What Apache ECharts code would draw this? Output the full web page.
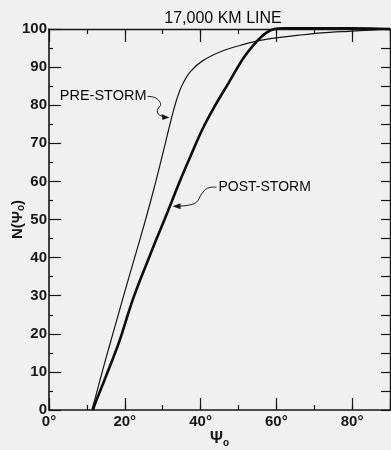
<!DOCTYPE html>
<html>
<head>
<meta charset="utf-8">
<script src="https://cdn.jsdelivr.net/npm/echarts@6/dist/echarts.min.js"></script>
<style>
html,body{margin:0;padding:0;background:#f0f0f0;}
#c{width:391px;height:450px;}
</style>
</head>
<body>
<div id="c"></div>
<script>
// ---- data ----
var chartTitle = '17,000 KM LINE';
var xTickLabels = ['0°', '20°', '40°', '60°', '80°'];
var yTickLabels = ['0','10','20','30','40','50','60','70','80','90','100'];

var preStormX = [11.3, 12.3, 13.5, 15.0, 17.0, 19.7, 22.6, 25.5, 28.2, 30.7, 31.8, 32.7, 33.7, 35.0, 37.2, 40.6, 45.9, 51.2, 55.7, 61.0, 66.0, 72.0, 79.0, 85.0, 90.0];
var preStormY = [0, 3.5, 8.0, 13.5, 20.5, 30.0, 40.0, 50.0, 60.0, 70.0, 74.5, 78.0, 81.5, 85.0, 88.7, 91.7, 94.3, 95.9, 97.0, 97.8, 98.4, 99.0, 99.4, 99.7, 100.0];

var postStormX = [11.6, 12.3, 13.3, 14.5, 15.6, 16.9, 18.2, 19.4, 20.8, 22.3, 24.0, 26.0, 28.2, 30.5, 32.5, 34.5, 37.2, 40.4, 43.6, 47.5, 51.2, 54.9, 57.3, 59.5, 62.0, 65.0, 75.0, 85.0, 90.0];
var postStormY = [0, 2.0, 4.5, 7.5, 10.3, 13.6, 17.0, 20.5, 25.0, 29.5, 34.0, 39.0, 44.5, 50.0, 55.0, 60.0, 66.3, 73.5, 79.5, 86.0, 92.2, 96.8, 99.0, 100.0, 100.2, 100.2, 100.2, 100.1, 100.0];

var annotationText = ['PRE-STORM', 'POST-STORM'];
var annotationArrowAt = [[31.8, 76.8], [32.6, 53.5]];   // data coords where arrows touch the curves

function zip(xs, ys){ var o=[]; for (var i=0;i<xs.length;i++) o.push([xs[i], ys[i]]); return o; }

var FONT = 'Liberation Sans';
var INK = '#161616';

var chart = echarts.init(document.getElementById('c'), null, {renderer:'canvas'});

var xLabelFmt = function(v){ var i = v/20; return (v % 20 === 0 && i < xTickLabels.length) ? xTickLabels[i] : ''; };
var yLabelFmt = function(v){ return (v % 10 === 0) ? yTickLabels[v/10] : ''; };

var commonX = {type:'value', min:0, max:90, splitLine:{show:false}, gridIndex:0};

var option = {
  backgroundColor:'#f0f0f0',
  animation:false,
  title:{
    text: chartTitle, left: 218, top: 6, textAlign:'center',
    textStyle:{fontFamily:FONT, fontSize:16, fontWeight:'normal', color:'#0a0a0a'}
  },
  grid:{left:49, right:1, top:29, bottom:40, containLabel:false, outerBoundsMode:'none'},
  xAxis:[
    Object.assign({}, commonX, {
      position:'bottom', interval:10,
      axisLine:{show:true, onZero:false, lineStyle:{color:INK, width:1.6}},
      axisTick:{show:true, inside:true, length:5, lineStyle:{color:INK, width:1.2}},
      axisLabel:{show:false}
    }),
    Object.assign({}, commonX, {
      position:'bottom', interval:20,
      axisLine:{show:false, onZero:false},
      axisTick:{show:true, inside:true, length:12, lineStyle:{color:INK, width:1.2}},
      axisLabel:{show:true, formatter:xLabelFmt, margin:4, fontFamily:FONT, fontSize:15, fontWeight:'bold', color:INK},
      name:'Ψ{s|o}', nameLocation:'middle', nameGap:20, nameMoveOverlap:false,
      nameTextStyle:{fontFamily:FONT, fontSize:16, fontWeight:'bold', color:INK, rich:{s:{fontFamily:FONT, fontSize:10, color:INK, verticalAlign:'bottom', padding:[8,0,0,0]}}}
    }),
    Object.assign({}, commonX, {
      position:'top', interval:10,
      axisLine:{show:true, onZero:false, lineStyle:{color:INK, width:1.4}},
      axisTick:{show:true, inside:true, length:5, lineStyle:{color:INK, width:1.2}},
      axisLabel:{show:false}
    }),
    Object.assign({}, commonX, {
      position:'top', interval:20,
      axisLine:{show:false, onZero:false},
      axisTick:{show:true, inside:true, length:13, lineStyle:{color:INK, width:1.2}},
      axisLabel:{show:false}
    })
  ],
  yAxis:[
    {
      type:'value', min:0, max:100, interval:10, position:'left', splitLine:{show:false},
      axisLine:{show:true, onZero:false, lineStyle:{color:INK, width:1.6}},
      axisTick:{show:true, inside:true, length:12, lineStyle:{color:INK, width:1.2}},
      minorTick:{show:true, splitNumber:2, length:4, lineStyle:{color:INK, width:1.2}},
      axisLabel:{show:true, formatter:yLabelFmt, margin:2, fontFamily:FONT, fontSize:15, fontWeight:'bold', color:INK},
      name:'N(Ψ{s|o})', nameLocation:'middle', nameGap:23, nameRotate:90, nameMoveOverlap:false,
      nameTextStyle:{fontFamily:FONT, fontSize:15, fontWeight:'bold', color:INK, rich:{s:{fontFamily:FONT, fontSize:10, fontWeight:'bold', color:INK, verticalAlign:'bottom', padding:[7,0,0,0]}}}
    },
    {
      type:'value', min:0, max:100, interval:5, position:'right', splitLine:{show:false},
      axisLine:{show:true, onZero:false, lineStyle:{color:INK, width:1.4}},
      axisTick:{show:true, inside:true, length:9, lineStyle:{color:INK, width:1.2}},
      axisLabel:{show:false}
    }
  ],
  series:[
    {
      name:'PRE-STORM', type:'line', xAxisIndex:0, yAxisIndex:0, data: zip(preStormX, preStormY),
      showSymbol:false, smooth:0.3, clip:false,
      lineStyle:{color:INK, width:1.2}
    },
    {
      name:'POST-STORM', type:'line', xAxisIndex:0, yAxisIndex:0, data: zip(postStormX, postStormY),
      showSymbol:false, smooth:0.3, clip:false,
      lineStyle:{color:'#0d0d0d', width:2.6}
    }
  ]
};
chart.setOption(option);

// ---- annotations: labels with curly leader lines and arrowheads ----
var p1 = chart.convertToPixel({gridIndex:0}, annotationArrowAt[0]);
var p2 = chart.convertToPixel({gridIndex:0}, annotationArrowAt[1]);
function shift(p, pts){ return pts.map(function(d){ return [p[0]+d[0], p[1]+d[1]]; }); }

chart.setOption({
  graphic:[
    {type:'text', x:p1[0]-23, y:p1[1]-21, style:{text:annotationText[0], fontFamily:FONT, fontSize:14.5, fontWeight:'normal', fill:'#0a0a0a', align:'right', verticalAlign:'middle'}},
    {type:'polyline', shape:{points: shift(p1, [[-22,-21],[-15,-20],[-10,-16],[-9,-12],[-12,-8],[-11,-3],[-6,-0.8]]), smooth:0.4},
      style:{stroke:INK, lineWidth:1, fill:null}},
    {type:'polygon', shape:{points: shift(p1, [[0,0],[-8,-3.5],[-7,2.5]])}, style:{fill:INK}},

    {type:'text', x:p2[0]+46, y:p2[1]-19, style:{text:annotationText[1], fontFamily:FONT, fontSize:14, fontWeight:'normal', fill:'#0a0a0a', align:'left', verticalAlign:'middle'}},
    {type:'polyline', shape:{points: shift(p2, [[6,0],[16,-1],[24,-4],[29,-12],[35,-18],[44,-19]]), smooth:0.4},
      style:{stroke:INK, lineWidth:1, fill:null}},
    {type:'polygon', shape:{points: shift(p2, [[0,0],[8,-3],[8,3]])}, style:{fill:INK}}
  ]
});
</script>
</body>
</html>
